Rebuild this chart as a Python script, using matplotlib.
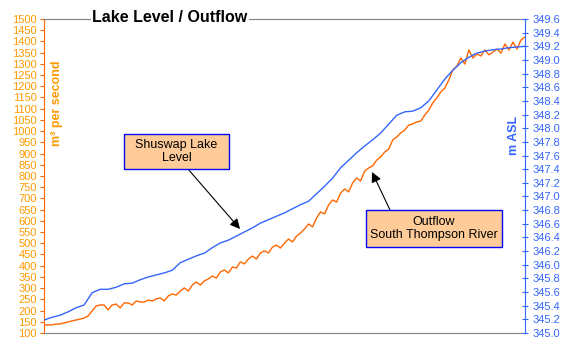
import numpy as np
import matplotlib
matplotlib.use('Agg')
import matplotlib.pyplot as plt
from matplotlib.patches import Rectangle, FancyArrowPatch

plt.rcParams['font.family'] = ['Liberation Sans', 'DejaVu Sans']

# Outflow, South Thompson River (m3/s), one value per day
outflow = [136, 136, 136, 140, 140, 145, 149, 154, 158, 162,
           167, 176, 198, 220, 225, 225, 203, 225, 229, 212,
           234, 234, 225, 243, 238, 238, 247, 243, 252, 256,
           243, 265, 274, 269, 287, 301, 287, 314, 327, 314,
           332, 341, 354, 345, 372, 381, 368, 394, 390, 417,
           408, 430, 443, 430, 457, 466, 457, 483, 492, 479,
           501, 519, 506, 532, 546, 564, 586, 573, 613, 640,
           631, 671, 693, 684, 724, 742, 729, 769, 791, 778,
           822, 836, 845, 871, 885, 907, 920, 961, 974, 992,
           1005, 1027, 1032, 1041, 1045, 1072, 1094, 1126, 1148, 1175,
           1192, 1228, 1273, 1290, 1326, 1299, 1362, 1326, 1344, 1335,
           1362, 1340, 1353, 1366, 1348, 1389, 1362, 1397, 1366, 1406,
           1420]

# Shuswap Lake level (m ASL), every second day
lake_level = [345.19, 345.23, 345.26, 345.31, 345.37, 345.41, 345.59, 345.64, 345.64, 345.67,
              345.72, 345.73, 345.78, 345.82, 345.85, 345.88, 345.92, 346.03, 346.08, 346.13,
              346.17, 346.25, 346.32, 346.36, 346.42, 346.48, 346.54, 346.61, 346.66, 346.71,
              346.76, 346.82, 346.88, 346.93, 347.04, 347.15, 347.27, 347.42, 347.53, 347.64,
              347.74, 347.83, 347.93, 348.06, 348.19, 348.24, 348.25, 348.30, 348.40, 348.56,
              348.72, 348.85, 348.96, 349.04, 349.10, 349.13, 349.15, 349.16, 349.18, 349.19,
              349.20]

outflow_day = np.arange(len(outflow))
lake_day = np.arange(len(lake_level)) * 2

flow_ticks = np.arange(100, 1501, 50)
level_ticks = np.round(np.arange(345.0, 349.61, 0.2), 1)
level_labels = [f'{v:.1f}' for v in level_ticks]

title = 'Lake Level / Outflow'
left_label = 'm³ per second'
right_label = 'm ASL'
lake_note = 'Shuswap Lake\nLevel'
flow_note = 'Outflow\nSouth Thompson River'

W, H = 578, 351
fig = plt.figure(figsize=(W / 100, H / 100), dpi=100)


def fx(px):
    return px / W


def fy(py):
    return 1 - py / H


ax = fig.add_axes([fx(44), fy(333), fx(525) - fx(44), (333 - 19) / H])
ax.plot(outflow_day, outflow, color='#FF6600', lw=1.0)
ax.set_xlim(0, 120)
ax.set_ylim(100, 1500)
ax.set_yticks(flow_ticks)
ax.set_xticks([])
ax.tick_params(axis='y', colors='#FF6600', labelcolor='#FF9900',
               labelsize=8, length=3, width=0.8, pad=2)
ax.spines['left'].set_color('#FF6600')
ax.spines['top'].set_color('#808080')
ax.spines['bottom'].set_color('#808080')
ax.spines['right'].set_visible(False)

ax2 = ax.twinx()
ax2.plot(lake_day, lake_level, color='#3366FF', lw=1.0)
ax2.set_ylim(345.0, 349.6)
ax2.set_yticks(level_ticks)
ax2.set_yticklabels(level_labels)
ax2.tick_params(axis='y', direction='inout', colors='#3366FF',
                labelsize=8, length=5, width=0.8, pad=3)
for s in ['left', 'top', 'bottom']:
    ax2.spines[s].set_visible(False)
ax2.spines['right'].set_color('#3366FF')

fig.text(fx(170), fy(18), title, ha='center', va='center', fontsize=11.5,
         fontweight='bold', color='black',
         bbox=dict(facecolor='white', edgecolor='none', pad=1), zorder=5)

fig.text(fx(57), fy(103), left_label, rotation=90, ha='center', va='center',
         color='#FF9900', fontweight='bold', fontsize=9, zorder=5)
fig.text(fx(514), fy(135), right_label, rotation=90, ha='center', va='center',
         color='#3366FF', fontweight='bold', fontsize=9, zorder=5)


def note(x0, y0, x1, y1, text):
    r = Rectangle((fx(x0), fy(y1)), fx(x1) - fx(x0), (y1 - y0) / H,
                  transform=fig.transFigure, facecolor='#FFCC99',
                  edgecolor='#0000FF', lw=1.0, zorder=6)
    fig.add_artist(r)
    fig.text(fx((x0 + x1) / 2), fy((y0 + y1) / 2), text, ha='center',
             va='center', fontsize=9, color='black', linespacing=1.2, zorder=7)


def arrow(xa, ya, xb, yb):
    a = FancyArrowPatch(posA=(fx(xa), fy(ya)), posB=(fx(xb), fy(yb)),
                        transform=fig.transFigure, arrowstyle='-|>',
                        mutation_scale=15, color='black', lw=0.8,
                        shrinkA=0, shrinkB=0, zorder=5)
    fig.add_artist(a)


arrow(188, 169, 240, 229)
arrow(390, 210, 372, 172)
note(124, 134, 229, 169, lake_note)
note(366, 210, 502, 247, flow_note)

fig.savefig('out.png', dpi=100)
